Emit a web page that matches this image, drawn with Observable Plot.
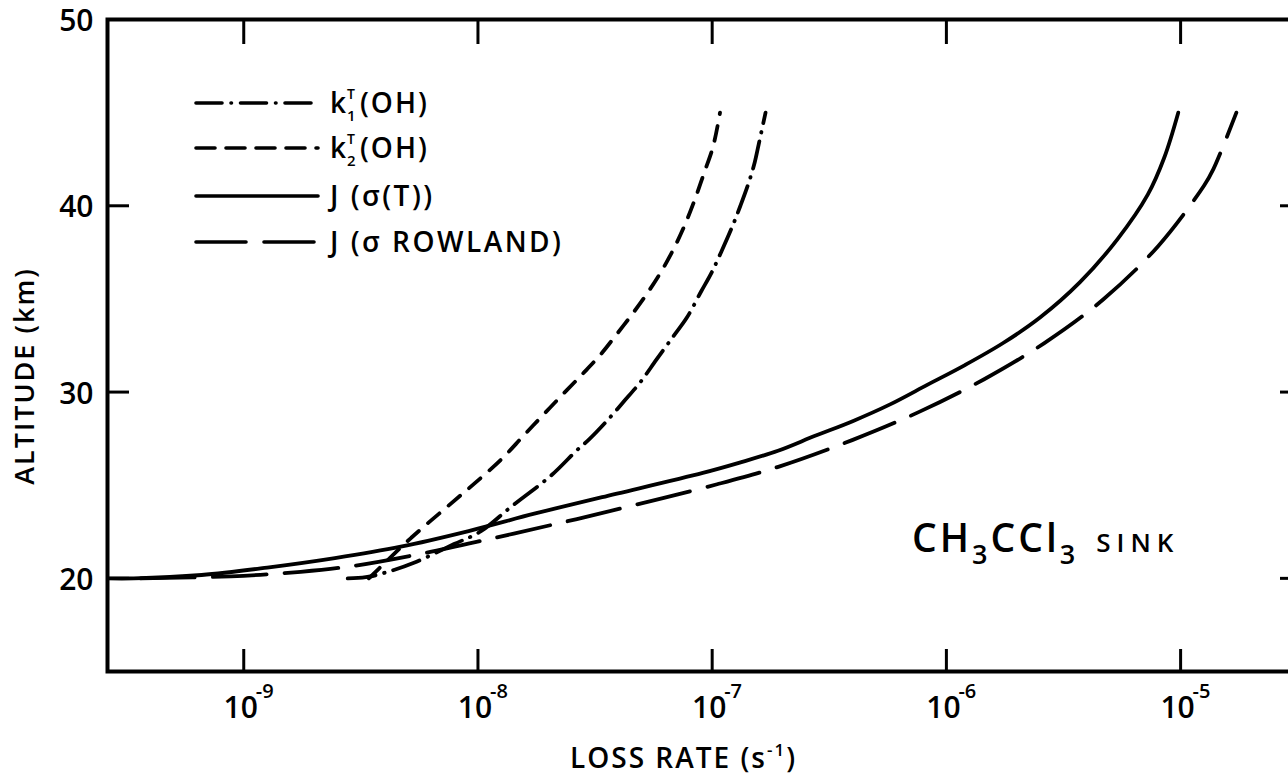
<!DOCTYPE html>
<html><head><meta charset="utf-8">
<script src="https://cdn.jsdelivr.net/npm/d3@7"></script>
<script src="https://cdn.jsdelivr.net/npm/@observablehq/plot@0.6"></script>
<style>
html,body{margin:0;padding:0;background:#fff;overflow:hidden;width:1288px;height:781px;}
#wrap{position:relative;width:1300px;height:781px;}
#wrap svg{position:absolute;left:0;top:0;}
</style></head><body><div id="wrap"></div>
<script>
// ---- data (loss rate in s^-1, altitude in km) ----
const rateJT = [2.63e-10,3.39e-10,6.61e-10,1.26e-9,2.45e-9,4.68e-9,9.12e-9,1.74e-8,3.39e-8,9.12e-8,1.30e-7,1.91e-7,2.75e-7,3.98e-7,5.75e-7,8.32e-7,1.20e-6,1.74e-6,2.51e-6,3.72e-6,5.37e-6,7.24e-6,8.51e-6,9.77e-6];
const altJT  = [20.0,20.0,20.18,20.58,21.09,21.70,22.54,23.47,24.36,25.66,26.2,26.85,27.65,28.44,29.34,30.40,31.45,32.62,34.0,35.9,38.2,40.6,42.58,45.0];

const rateJR = [3.63e-10,8.81e-10,1.75e-9,2.87e-9,5.71e-9,1.11e-8,2.20e-8,3.37e-8,1.05e-7,1.93e-7,3.96e-7,7.69e-7,1.45e-6,2.62e-6,4.67e-6,8.05e-6,1.26e-5,1.38e-5,1.73e-5];
const altJR  = [20.0,20.11,20.35,20.65,21.32,22.10,22.95,23.5,25.05,26.0,27.42,28.95,30.69,32.63,34.97,37.86,41.09,41.97,45.0];

const rateK1 = [2.78e-9,3.32e-9,4.05e-9,5.33e-9,7.91e-9,1.03e-8,1.39e-8,2.07e-8,2.65e-8,2.99e-8,3.51e-8,4.16e-8,4.92e-8,5.78e-8,6.85e-8,7.80e-8,8.97e-8,9.93e-8,1.10e-7,1.22e-7,1.32e-7,1.42e-7,1.51e-7,1.58e-7,1.69e-7];
const altK1  = [20.0,20.06,20.32,20.84,21.84,22.53,23.86,25.56,26.89,27.47,28.38,29.44,30.51,31.74,33.02,34.0,35.4,36.4,37.6,38.9,40.0,41.1,42.2,43.3,45.0];

const rateK2 = [3.42e-9,3.98e-9,5.19e-9,7.48e-9,9.70e-9,1.27e-8,1.55e-8,1.89e-8,2.31e-8,2.81e-8,3.33e-8,3.91e-8,4.63e-8,5.28e-8,6.08e-8,6.92e-8,7.66e-8,8.47e-8,9.20e-8,1.01e-7,1.08e-7];
const altK2  = [20.0,20.80,22.18,23.9,25.11,26.44,27.6,28.75,29.9,31.0,32.0,33.1,34.3,35.3,36.5,37.8,39.0,40.4,41.7,43.2,45.0];

const xTicks = [1e-9,1e-8,1e-7,1e-6,1e-5];
const xExp   = ["-9","-8","-7","-6","-5"];
const yTicks = [20,30,40,50];
const xDomain = [2.62e-10, 3.25e-5];
const yDomain = [15, 50];
const yLabel = "ALTITUDE (km)";

// ---- layout ----
const W = 1300, H = 781, mL = 107, mR = 0, mT = 19, mB = 110;
const plotW = W - mL - mR, plotH = H - mT - mB;
const FONT = "Open Sans";
const rows = (r, a) => r.map((v, i) => ({rate: v, alt: a[i]}));

const lineOpts = {x: "rate", y: "alt", curve: "catmull-rom", stroke: "#000", strokeWidth: 3.8, strokeLinecap: "round"};

const chart = Plot.plot({
  width: W, height: H,
  marginLeft: mL, marginRight: mR, marginTop: mT, marginBottom: mB,
  style: {fontFamily: FONT, fontWeight: 600, color: "#000", background: "#fff"},
  x: {type: "log", domain: xDomain, axis: null},
  y: {domain: yDomain, axis: null},
  marks: [
    Plot.axisY(yTicks, {tickSize: 0, tickPadding: 14, fontSize: 30, fontWeight: 600, fontFamily: FONT, label: null, tickFormat: d => String(d), dy: 2}),
    Plot.tickY(yTicks.filter(d => d < 50), {y: d => d, insetRight: plotW - 22, strokeWidth: 3}),
    Plot.tickY(yTicks.filter(d => d < 50), {y: d => d, insetLeft: plotW - 20, strokeWidth: 3}),
    Plot.tickX(xTicks, {x: d => d, insetTop: plotH - 22, strokeWidth: 3}),
    Plot.tickX(xTicks, {x: d => d, insetBottom: plotH - 25, strokeWidth: 3}),
    Plot.text(xTicks, {x: d => d, frameAnchor: "bottom", dy: 46, dx: -3, text: () => "10", fontSize: 30, fontWeight: 600, fill: "#000"}),
    Plot.text(xTicks, {x: d => d, frameAnchor: "bottom", dy: 26, dx: 12, textAnchor: "start", text: (d, i) => xExp[i], fontSize: 20, fontWeight: 600, fill: "#000"}),
    Plot.line(rows(rateJT, altJT), {...lineOpts}),
    Plot.line(rows(rateJR, altJR), {...lineOpts, strokeDasharray: "54,18"}),
    Plot.line(rows(rateK2, altK2), {...lineOpts, strokeDasharray: "15,12"}),
    Plot.line(rows(rateK1, altK1), {...lineOpts, strokeDasharray: "28,9,0.5,9"}),
    Plot.frame({stroke: "#000", strokeWidth: 4})
  ]
});
document.getElementById("wrap").appendChild(chart);

// ---- overlay: legend, axis titles, annotation ----
const ov = d3.select("#wrap").append("svg")
  .attr("width", W).attr("height", H)
  .style("font-family", FONT).style("font-weight", 600).style("pointer-events", "none");

// y axis title
ov.append("text").attr("transform", "translate(34,376) rotate(-90)")
  .attr("text-anchor", "middle").attr("font-size", 27).attr("letter-spacing", 2).text(yLabel);

const legendRows = [
  {y: 103, dash: "26,9,0.5,9", key: "k1"},
  {y: 148, dash: "19,11", key: "k2"},
  {y: 196, dash: null, key: "JT"},
  {y: 242, dash: "50,18", key: "JR"}
];
const lx0 = 196, lx1 = 318, tx = 330;
legendRows.forEach(r => {
  const ln = ov.append("line").attr("x1", lx0).attr("x2", lx1).attr("y1", r.y).attr("y2", r.y)
    .attr("stroke", "#000").attr("stroke-width", 3.6).attr("stroke-linecap", "round");
  if (r.dash) ln.attr("stroke-dasharray", r.dash);
  const base = r.y + 10;
  const t = (x, y, s, str, ls) => ov.append("text").attr("x", x).attr("y", y).attr("font-size", s).attr("letter-spacing", ls || 0).text(str);
  if (r.key === "k1" || r.key === "k2") {
    t(tx, base, 28, "k");
    t(tx + 17, base - 14, 14, "T");
    t(tx + 17, base + 8, 15, r.key === "k1" ? "1" : "2");
    t(tx + 30, base, 28, "(OH)", 2);
  } else if (r.key === "JT") {
    t(tx, base, 28, "J (σ(T))", 2.5);
  } else {
    t(tx, base, 28, "J (σ ROWLAND)", 2.5);
  }
});

// x axis title
const xt = ov.append("text").attr("x", 570).attr("y", 768).attr("font-size", 28).attr("letter-spacing", 2);
xt.append("tspan").text("LOSS RATE (s");
xt.append("tspan").attr("font-size", 17).attr("dy", -12).text("-1");
xt.append("tspan").attr("dy", 12).text(")");

// annotation
const an = ov.append("text").attr("x", 912).attr("y", 552).attr("font-size", 39).attr("letter-spacing", 3);
an.append("tspan").text("CH");
an.append("tspan").attr("font-size", 27).attr("dy", 12).text("3");
an.append("tspan").attr("dy", -12).text("CCl");
an.append("tspan").attr("font-size", 27).attr("dy", 12).text("3");
an.append("tspan").attr("font-size", 26).attr("dy", -12).attr("dx", 18).attr("letter-spacing", 6).text("SINK");
</script>
</body></html>
